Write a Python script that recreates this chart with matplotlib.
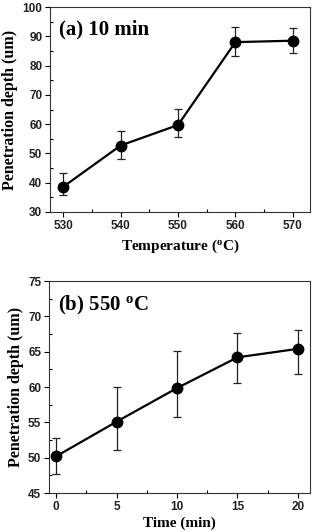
import matplotlib
matplotlib.use('Agg')
import matplotlib.pyplot as plt
from matplotlib.ticker import MultipleLocator

# (a) 10 min, depth vs temperature
temp = [530, 540, 550, 560, 570]
depth_a = [38.6, 52.7, 59.7, 88.0, 88.5]
low_a = [35.8, 48.0, 55.5, 83.3, 84.3]
high_a = [43.2, 57.6, 65.2, 93.1, 92.7]

# (b) 550 C, depth vs time
time_min = [0, 5, 10, 15, 20]
depth_b = [50.2, 55.1, 59.85, 64.2, 65.4]
low_b = [47.7, 51.1, 55.7, 60.6, 61.8]
high_b = [52.85, 60.0, 65.06, 67.7, 68.1]

serif = 'Liberation Serif'
sans = 'Liberation Sans'

W, H = 314, 532
fig = plt.figure(figsize=(W / 100, H / 100), dpi=100)


def panel(rect, x, y, lo, hi, xlim, ylim, xmaj, ymaj, xlabel, tag, xpad=4):
    ax = fig.add_axes(rect)
    yerr = [[v - l for v, l in zip(y, lo)], [h - v for v, h in zip(y, hi)]]
    ax.errorbar(x, y, yerr=yerr, color='black', lw=1.6, marker='o', ms=7.5,
                mfc='black', mec='black', ecolor='#222222', elinewidth=0.9,
                capsize=3, capthick=0.9)
    # little highlight to hint at the shaded spheres
    ax.plot(x, y, 'o', ms=2.0, color='#9a9a9a', linestyle='none',
            markeredgewidth=0)
    ax.set_xlim(*xlim)
    ax.set_ylim(*ylim)
    ax.xaxis.set_major_locator(MultipleLocator(xmaj))
    ax.xaxis.set_minor_locator(MultipleLocator(xmaj / 2))
    ax.yaxis.set_major_locator(MultipleLocator(ymaj))
    ax.yaxis.set_minor_locator(MultipleLocator(ymaj / 2))
    ax.tick_params(which='major', direction='out', length=3.5, width=0.8,
                   labelsize=8.5, pad=2)
    ax.tick_params(which='minor', direction='in', length=2.5, width=0.8)
    for lab in ax.get_xticklabels() + ax.get_yticklabels():
        lab.set_fontfamily(sans)
        lab.set_fontweight('bold')
        lab.set_color('#222222')
    for s in ax.spines.values():
        s.set_linewidth(0.8)
        s.set_color('#333333')
    ax.set_ylabel('Penetration depth (um)', fontfamily=serif,
                  fontweight='bold', fontsize=11.5, labelpad=3)
    ax.set_xlabel(xlabel, fontfamily=serif, fontweight='bold', fontsize=11,
                  labelpad=xpad)
    ax.text(0.035, 0.94, tag, transform=ax.transAxes, fontfamily=serif,
            fontweight='bold', fontsize=15, va='top', ha='left')
    return ax


panel([50 / W, 1 - 212 / H, 260 / W, 205 / H], temp, depth_a, low_a, high_a,
      (527.7, 573), (30, 100), 10, 10, 'Temperature ($\\mathregular{^o}$C)',
      '(a) 10 min')
panel([49 / W, 1 - 493 / H, 261 / W, 212 / H], time_min, depth_b, low_b,
      high_b, (-0.6, 21), (45, 75), 5, 5, 'Time (min)',
      '(b) 550 $\\mathregular{^o}$C', xpad=3)

fig.savefig('out.png', dpi=100)
